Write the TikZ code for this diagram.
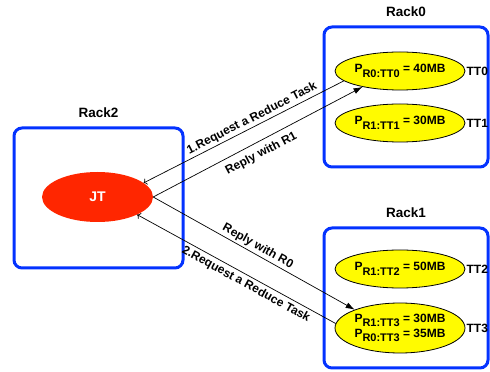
\documentclass[tikz,border=0pt]{standalone}
\usepackage{fontspec}
\setmainfont{Liberation Sans}
\usepackage{xcolor}
\usepackage{tikz}
\usetikzlibrary{arrows.meta,positioning,shapes.geometric}
\definecolor{rackblue}{RGB}{4,51,255}
\definecolor{jtred}{RGB}{255,38,0}
\definecolor{ttyellow}{RGB}{255,251,0}
\newcommand{\pval}[3]{P\raisebox{-4.5pt}{\fontsize{11}{13}\selectfont #1:#2} = #3}

\begin{document}
\begin{tikzpicture}[x=1pt,y=1pt,
	rack/.style={draw=rackblue,line width=3pt,rounded corners=8pt,minimum width=164pt,minimum height=140pt},
	racklbl/.style={inner sep=0pt,font=\fontsize{13.5}{16}\selectfont\bfseries},
	tt/.style={ellipse,draw,fill=ttyellow,line width=0.8pt,minimum width=130pt,minimum height=38pt,inner sep=0pt,align=center,font=\fontsize{12}{18}\selectfont\bfseries},
	ttlbl/.style={inner sep=1pt,font=\fontsize{12}{14}\selectfont\bfseries},
	msg/.style={line width=0.7pt,-{Latex[length=9pt,width=6pt]}},
	msglbl/.style={sloped,inner sep=2pt,font=\fontsize{12}{14}\selectfont\bfseries}]
	\useasboundingbox (0,0) rectangle (490,372);
	% racks
	\node[rack] (rack0) at (406,275) {};
	\node[rack] (rack1) at (406,74) {};
	\node[rack,minimum width=169pt] (rack2) at (98.5,174) {};
	\node[racklbl,above=9pt of rack0] (rack0lbl) {Rack0};
	\node[racklbl,above=9pt of rack1] (rack1lbl) {Rack1};
	\node[racklbl,above=9pt of rack2] (rack2lbl) {Rack2};
	% task trackers
	\node[tt] (tt0) at (400,301) {\pval{R0}{TT0}{40MB}};
	\node[tt] (tt1) at (400,249) {\pval{R1}{TT1}{30MB}};
	\node[tt] (tt2) at (400,103) {\pval{R1}{TT2}{50MB}};
	\node[tt,minimum height=50pt] (tt3) at (400,44) {\pval{R1}{TT3}{30MB}\\[-3pt]\pval{R0}{TT3}{35MB}};
	\node[ttlbl,right=0pt of tt0] (tt0lbl) {TT0};
	\node[ttlbl,right=0pt of tt1] (tt1lbl) {TT1};
	\node[ttlbl,right=0pt of tt2] (tt2lbl) {TT2};
	\node[ttlbl,right=0pt of tt3] (tt3lbl) {TT3};
	% job tracker
	\node[ellipse,fill=jtred,minimum width=111pt,minimum height=50pt,text=white,font=\fontsize{14}{16}\selectfont\bfseries] (jt) at (97.5,175) {JT};
	% messages
	\draw[msg,<-] (jt.17.5) -- node[msglbl,above,pos=0.56]{1.Request a Reduce Task} (tt0.190);
	\draw[msg] (jt.east) -- node[msglbl,below=4pt,pos=0.49]{Reply with R1} (tt0.203);
	\draw[msg] (jt.east) -- node[msglbl,above,pos=0.5]{Reply with R0} (tt3.158);
	\draw[msg,<-] (jt.-24) -- node[msglbl,below=1pt,pos=0.57]{2.Request a Reduce Task} (tt3.176);
	%\draw[dashed] (rack2) -- (rack0);
\end{tikzpicture}
\end{document}
